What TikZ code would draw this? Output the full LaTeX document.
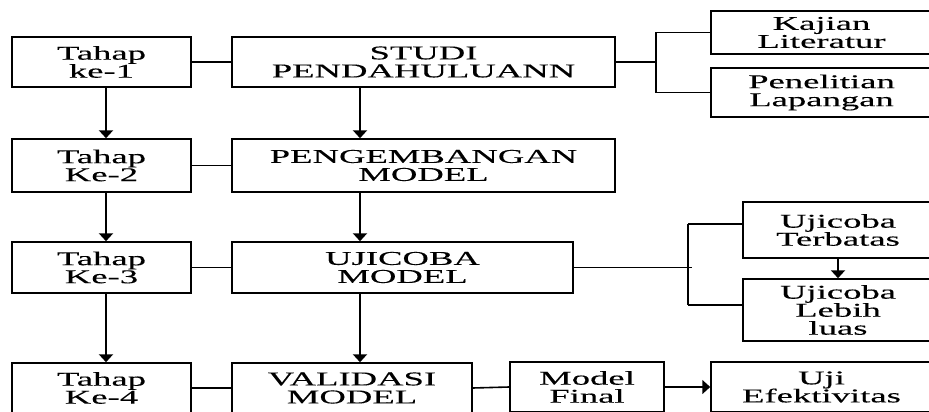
\documentclass[tikz,border=0pt]{standalone}
\usepackage{fontspec}
\newfontfamily\boxfont{Liberation Serif}[FakeStretch=1.88,FakeBold=0.2]
\usetikzlibrary{arrows.meta}

\tikzset{
  kotak/.style={draw,line width=1.5pt,inner sep=2pt,align=center,
    font={\boxfont\fontsize{19.5}{18}\selectfont}},
  garis/.style={line width=1.6pt},
  panah/.style={line width=2.6pt,-{Triangle[width=14pt,length=8pt]}},
}

\begin{document}
\begin{tikzpicture}[x=1pt,y=-1pt]
    \clip (0,0) rectangle (929,412);
    \fill[white] (0,0) rectangle (929,412);

    % kolom tahap
    \node[kotak,minimum width=179,minimum height=50] (t1) at (101.5,62) {Tahap\\ke-1};
    \node[kotak,minimum width=179,minimum height=53] (t2) at (101.5,165.5) {Tahap\\Ke-2};
    \node[kotak,minimum width=179,minimum height=51] (t3) at (101.5,267.5) {Tahap\\Ke-3};
    \node[kotak,minimum width=179,minimum height=50] (t4) at (101.5,388) {Tahap\\Ke-4};

    % kolom kegiatan
    \node[kotak,minimum width=383,minimum height=50] (studi) at (423.5,62) {STUDI\\PENDAHULUANN};
    \node[kotak,minimum width=383,minimum height=53] (kembang) at (423.5,165.5) {PENGEMBANGAN\\MODEL};
    \node[kotak,minimum width=341,minimum height=51] (ujimodel) at (402.5,267.5) {UJICOBA\\MODEL};
    \node[kotak,minimum width=240,minimum height=50] (validasi) at (352,388) {VALIDASI\\MODEL};
    \node[kotak,minimum width=154,minimum height=50] (final) at (587,387) {Model\\Final};
    \node[kotak,minimum width=221,minimum height=50] (efektif) at (821.5,387) {Uji\\Efektivitas};

    % rincian
    \node[kotak,minimum width=221,minimum height=43] (kajian) at (821.5,32.5) {Kajian\\Literatur};
    \node[kotak,minimum width=221,minimum height=49] (lapangan) at (821.5,92.5) {Penelitian\\Lapangan};
    \node[kotak,minimum width=190,minimum height=56] (terbatas) at (838,230) {Ujicoba\\Terbatas};
    \node[kotak,minimum width=190,minimum height=62] (luas) at (838,310) {Ujicoba\\Lebih\\luas};

    \coordinate (kolt) at (106,0);
    \coordinate (kolm) at (360,0);
    \coordinate (cab1) at (656,0);
    \coordinate (cab2) at (688,0);

    % panah ke bawah
    \draw[panah] (t1.south -| kolt) -- (t2.north -| kolt);
    \draw[panah] (t2.south -| kolt) -- (t3.north -| kolt);
    \draw[panah] (t3.south -| kolt) -- (t4.north -| kolt);
    \draw[panah] (studi.south -| kolm) -- (kembang.north -| kolm);
    \draw[panah] (kembang.south -| kolm) -- (ujimodel.north -| kolm);
    \draw[panah] (ujimodel.south -| kolm) -- (validasi.north -| kolm);
    \draw[panah] (terbatas.south) -- (luas.north);

    % penghubung
    \draw[garis] (t1.east) -- (studi.west);
    \draw[garis] (t2.east) -- (kembang.west);
    \draw[garis] (t3.east) -- (ujimodel.west);
    \draw[garis] (t4.east) -- (validasi.west);
    \draw[garis] (validasi.east) -- (final.west);
    \draw[panah,line width=1.6pt] (final.east) -- (efektif.west);

    \draw[garis] (studi.east) -- (studi.east -| cab1);
    \draw[garis] (kajian.west) -- (kajian.west -| cab1);
    \draw[garis] (lapangan.west) -- (lapangan.west -| cab1);
    \draw[line width=2.4pt] (kajian.west -| cab1) -- (lapangan.west -| cab1);

    \draw[garis] (ujimodel.east) -- ([xshift=4pt]ujimodel.east -| cab2);
    \draw[garis] ([yshift=6pt]terbatas.west) -- ([yshift=6pt]terbatas.west -| cab2);
    \draw[garis] ([yshift=5pt]luas.west) -- ([yshift=5pt]luas.west -| cab2);
    \draw[line width=2.4pt] ([yshift=6pt]terbatas.west -| cab2) -- ([yshift=5pt]luas.west -| cab2);
\end{tikzpicture}
\end{document}
